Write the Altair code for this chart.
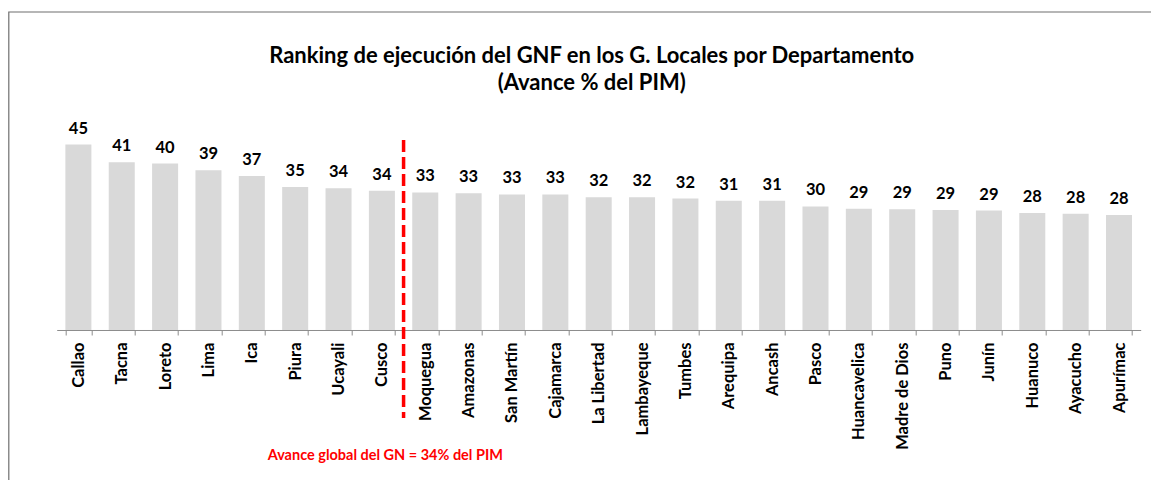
import altair as alt
import pandas as pd

departamentos = ["Callao", "Tacna", "Loreto", "Lima", "Ica", "Piura", "Ucayali", "Cusco",
                 "Moquegua", "Amazonas", "San Martín", "Cajamarca", "La Libertad", "Lambayeque",
                 "Tumbes", "Arequipa", "Ancash", "Pasco", "Huancavelica", "Madre de Dios",
                 "Puno", "Junín", "Huanuco", "Ayacucho", "Apurímac"]
avance = [45.0, 40.7, 40.4, 38.8, 37.4, 34.7, 34.4, 33.8,
          33.4, 33.2, 32.9, 32.9, 32.2, 32.2,
          31.9, 31.4, 31.4, 30.0, 29.4, 29.3,
          29.1, 29.0, 28.4, 28.2, 27.9]
etiquetas = ["45", "41", "40", "39", "37", "35", "34", "34",
             "33", "33", "33", "33", "32", "32",
             "32", "31", "31", "30", "29", "29",
             "29", "29", "28", "28", "28"]

titulo = ["Ranking de ejecución del GNF en los G. Locales por Departamento", "(Avance % del PIM)"]
nota = "Avance global del GN = 34% del PIM"
corte = "Cusco"

FONT = "Lato"
df = pd.DataFrame({"dep": departamentos, "avance": avance, "lab": etiquetas})

W = 1084
H = 206
STEP = W / len(departamentos)

xenc = alt.X("dep:N", sort=departamentos,
             scale=alt.Scale(paddingInner=0.4, paddingOuter=0.2),
             axis=alt.Axis(title=None, labelAngle=270, labelFont=FONT, labelFontSize=16.5,
                           labelFontWeight="bold", labelColor="black", labelPadding=7,
                           labelAlign="right", labelBaseline="middle",
                           domainColor="#8c8c8c", tickColor="#8c8c8c", tickSize=5,
                           tickBand="extent", grid=False))
yenc = alt.Y("avance:Q", scale=alt.Scale(domain=[0, 50], nice=False, zero=True), axis=None)

base = alt.Chart(df)
bars = base.mark_bar(color="#d9d9d9").encode(x=xenc, y=yenc)
labels = base.mark_text(font=FONT, fontSize=16.5, fontWeight="bold", color="black",
                        baseline="alphabetic", dy=-11).encode(
    x=alt.X("dep:N", sort=departamentos), y=yenc, text="lab:N")

rule = alt.Chart(pd.DataFrame({"dep": [corte]})).mark_rule(
    color="#ff0000", strokeWidth=3.5, strokeDash=[12, 5], xOffset=STEP * 0.2).encode(
    x=alt.X("dep:N", sort=departamentos, bandPosition=1),
    y=alt.value(16), y2=alt.value(294))

note = alt.Chart(pd.DataFrame({"t": [nota]})).mark_text(
    font=FONT, fontSize=14.5, fontWeight="bold", color="#ff0000",
    align="left", baseline="middle").encode(
    x=alt.value(211), y=alt.value(332), text="t:N")

title1 = alt.Chart(pd.DataFrame({"t": [titulo[0]]})).mark_text(
    font=FONT, fontSize=22, fontWeight="bold", color="black",
    align="center", baseline="alphabetic").encode(
    x=alt.value(535), y=alt.value(-61), text="t:N")
title2 = alt.Chart(pd.DataFrame({"t": [titulo[1]]})).mark_text(
    font=FONT, fontSize=22, fontWeight="bold", color="black",
    align="center", baseline="alphabetic").encode(
    x=alt.value(535), y=alt.value(-34), text="t:N")

frame = alt.Chart(pd.DataFrame({"k": [0]})).mark_rect(
    fill="transparent", stroke="#6f6f6f", strokeWidth=1.2).encode(
    x=alt.value(-47.9), x2=alt.value(1200), y=alt.value(-112), y2=alt.value(500))

chart = alt.layer(frame, bars, labels, rule, note, title1, title2).properties(
    width=W, height=H,
    autosize=alt.AutoSizeParams(type="none"),
    padding={"left": 48.7, "top": 116, "right": 10, "bottom": 150},
).configure(background="white").configure_view(stroke=None)

chart.save("out.html", embed_options={"renderer": "svg", "actions": False})
